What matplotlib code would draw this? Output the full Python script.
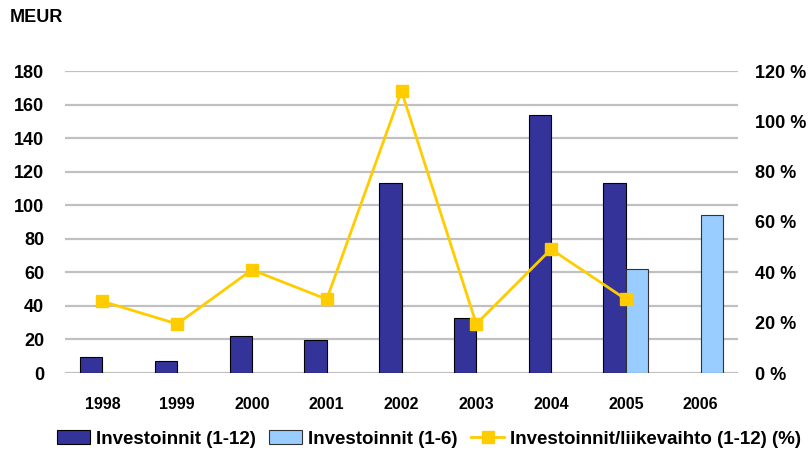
import matplotlib
matplotlib.use("Agg")
import matplotlib.pyplot as plt
import numpy as np
from matplotlib.patches import Patch
from matplotlib.lines import Line2D

years = ["1998", "1999", "2000", "2001", "2002", "2003", "2004", "2005", "2006"]
invest_full = [9.5, 7, 22, 19.5, 113, 32.5, 154, 113, None]
invest_half = [None, None, None, None, None, None, None, 62, 94]
ratio_pct = [28.5, 19.5, 41, 29.3, 112, 19.5, 49.2, 29.3, None]
left_ticks = [0, 20, 40, 60, 80, 100, 120, 140, 160, 180]
right_ticks = [0, 20, 40, 60, 80, 100, 120]

plt.rcParams['font.family'] = ['Liberation Sans', 'DejaVu Sans']
plt.rcParams['font.weight'] = 'bold'

fig = plt.figure(figsize=(8.11, 4.55), dpi=100)
ax = fig.add_axes([65/811, 82/455, (738-65)/811, (373-71)/455])
ax2 = ax.twinx()

x = np.arange(len(years))
w = 0.3
dark = "#333399"
light = "#99CCFF"
yellow = "#FFCC00"

for i, v in enumerate(invest_full):
    if v is not None:
        ax.bar(x[i] - w/2, v, width=w, color=dark, edgecolor="black", linewidth=0.8, zorder=3)
for i, v in enumerate(invest_half):
    if v is not None:
        ax.bar(x[i] + w/2, v, width=w, color=light, edgecolor="#333333", linewidth=0.8, zorder=3)

xs = [x[i] for i, v in enumerate(ratio_pct) if v is not None]
ys = [v for v in ratio_pct if v is not None]
ax2.plot(xs, ys, color=yellow, linewidth=2, marker="s", markersize=9, zorder=4)

ax.set_xlim(-0.5, len(years) - 0.5)
ax.set_ylim(0, 180)
ax2.set_ylim(0, 120)
ax.set_yticks(left_ticks)
ax.set_yticklabels([str(t) for t in left_ticks], fontsize=13, fontweight="bold")
ax2.set_yticks(right_ticks)
ax2.set_yticklabels([f"{t} %" for t in right_ticks], fontsize=13, fontweight="bold")
ax.set_xticks(x)
ax.set_xticklabels(years, fontsize=11.5, fontweight="bold")

for a in (ax, ax2):
    for s in a.spines.values():
        s.set_visible(False)
    a.tick_params(length=0)
ax.tick_params(axis="y", pad=15)
ax2.tick_params(axis="y", pad=12)
ax.tick_params(axis="x", pad=17)

ax.grid(axis="y", color="#c0c0c0", linewidth=1.6, zorder=0)
ax.set_axisbelow(True)
ax2.set_zorder(ax.get_zorder() + 1)
ax2.patch.set_visible(False)

fig.text(10/811, 1 - 17/455, "MEUR", fontsize=13, fontweight="bold", va="center", ha="left")

handles = [
    Patch(facecolor=dark, edgecolor="black", linewidth=0.8),
    Patch(facecolor=light, edgecolor="#333333", linewidth=0.8),
    Line2D([0], [0], color=yellow, linewidth=2, marker="s", markersize=9),
]
labels = ["Investoinnit (1-12)", "Investoinnit (1-6)", "Investoinnit/liikevaihto (1-12) (%)"]
fig.legend(handles, labels, loc="center", bbox_to_anchor=(429/811, 1 - 439/455), ncol=3,
           frameon=False, handlelength=1.75, handletextpad=0.3, columnspacing=0.75,
           borderpad=0, prop={"weight": "bold", "size": 13.5})

fig.savefig("out.png", dpi=100)
